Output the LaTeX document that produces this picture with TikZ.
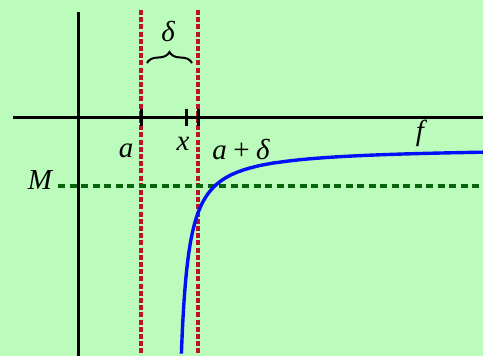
\documentclass[tikz,border=0pt]{standalone}
\usepackage{fontspec}
\setmainfont{Liberation Serif}
\usepackage{xcolor}
\usepackage{tikz}
\usetikzlibrary{decorations.pathreplacing,calc}
\definecolor{Meadow}{HTML}{BBFBBB}
\definecolor{Brick}{HTML}{C0102A}
\definecolor{Pine}{HTML}{06650A}
\definecolor{Curve}{HTML}{0010F8}

\begin{document}
\begin{tikzpicture}[x=1pt,y=-1pt,
  every node/.style={font=\fontsize{29}{32}\selectfont\itshape,inner sep=1pt},
  axis/.style={draw=black,line width=3pt},
  strip/.style={draw=Brick,line width=3.3pt,dash pattern=on 5pt off 2.2pt},
  bound/.style={draw=Pine,line width=3.2pt,dash pattern=on 7pt off 4.5pt},
  graph/.style={draw=Curve,line width=3.4pt},
  tick/.style={draw=black,line width=3pt}]
\fill[Meadow] (0,0) rectangle (483,356);
\useasboundingbox (0,0) rectangle (483,356);

\coordinate (xl) at (13,117);
\coordinate (xr) at (483,117);
\coordinate (yt) at (78,12);
\coordinate (yb) at (78,356);
\coordinate (Ml) at (58,186);
\coordinate (Mr) at (483,186);

% the strip from a to a+delta
\foreach \p in {141,198} \draw[strip] (\p,10) -- (\p,356);
\draw[bound] (Ml) -- (Mr);
\draw[axis] (xl) -- (xr);
\draw[axis] (yt) -- (yb);
\foreach \p in {141,186,198} \draw[tick] (\p,109) -- (\p,126);

\draw[graph] plot[domain=2.054:5.735,samples=200,variable=\u]
  ({173.6+exp(\u)},{147+1611*exp(-\u)});

\draw[decorate,decoration={brace,amplitude=11pt},line width=2pt] (147,63) -- (192,63);

\node (delta) at (168,32) {δ};
\node (a) at (126,151) {a};
\node (x) at (183,144) {x};
\node (ad) at (241,150) {a\hspace{0.22em}{\upshape+}\hspace{0.22em}δ};
\node (f) at (420,133) {f};
\node (M) at (40,180) {M};
\end{tikzpicture}
\end{document}
